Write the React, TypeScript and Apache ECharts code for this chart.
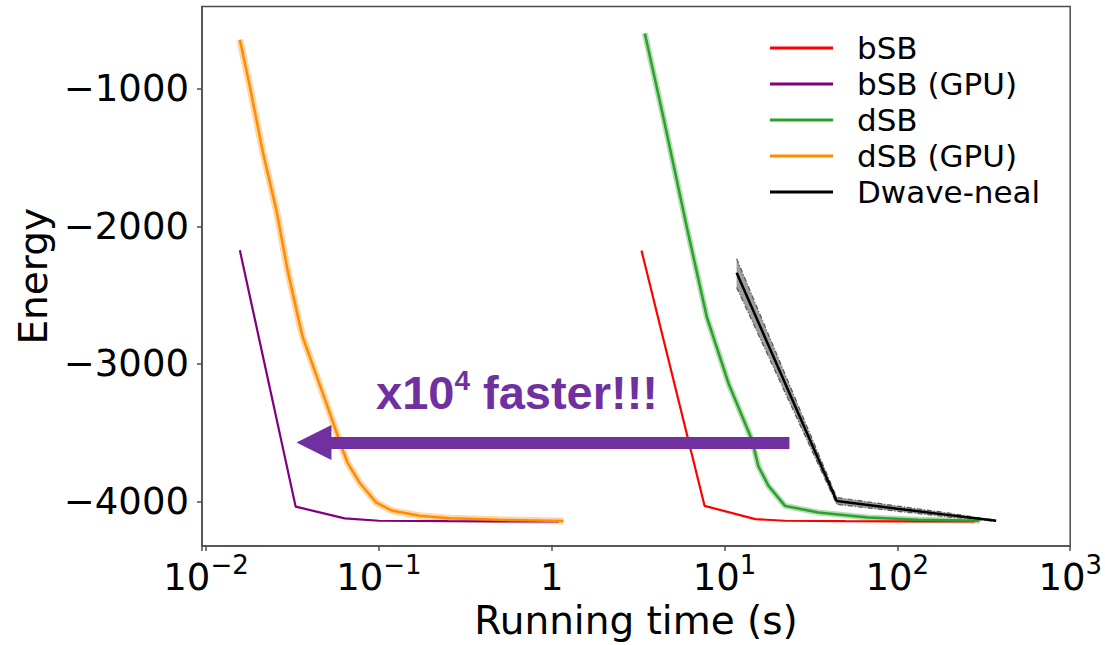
import React, { useEffect, useRef } from 'react';
import * as echarts from 'echarts';

// ---- data ----
const bsbT = [3.31, 7.67, 15.07, 22.4, 50, 100, 280];
const bsbE = [-2177, -4031, -4127, -4139, -4142, -4143, -4144];

const bsbGpuT = [0.0157, 0.033, 0.0634, 0.1, 0.25, 0.5, 1.1];
const bsbGpuE = [-2175, -4036, -4122, -4139, -4142, -4143, -4144];

const dsbT = [3.46, 4.45, 6.07, 7.91, 10.56, 14.4, 15.7, 18.0, 22.4, 34.9, 67.8, 131.8, 299];
const dsbE = [-600, -1221, -2015, -2662, -3143, -3551, -3743, -3887, -4031, -4079, -4115, -4132, -4139];

const dsbGpuT = [0.0157, 0.0179, 0.0213, 0.0256, 0.0297, 0.0348, 0.0363, 0.0497, 0.0607, 0.066, 0.0774, 0.0966, 0.12, 0.172, 0.256, 0.497, 1.17];
const dsbGpuE = [-645, -981, -1459, -1891, -2324, -2711, -2806, -3287, -3599, -3719, -3863, -4007, -4067, -4103, -4120, -4132, -4140];

const nealT = [11.75, 44.6, 100, 200, 373];
const nealE = [-2338, -3995, -4051, -4098, -4139];
const nealLower = [-2445, -4020, -4070, -4112, -4143];
const nealUpper = [-2235, -3970, -4032, -4084, -4135];

const legendNames = ['bSB', 'bSB (GPU)', 'dSB', 'dSB (GPU)', 'Dwave-neal'];
const seriesColors = ['#ff0000', '#800080', '#2ca02c', '#ff8c00', '#000000'];

const xTicks = [0.01, 0.1, 1, 10, 100, 1000];
const xTickBase = ['10', '10', '1', '10', '10', '10'];
const xTickExp = ['\u22122', '\u22121', '', '1', '2', '3'];
const yTicks = [-4000, -3000, -2000, -1000];

// annotation arrow (data coordinates)
const arrowFromT = 23.75;
const arrowToT = 0.0421;
const arrowE = -3570;

const zip = (a: number[], b: number[]) => a.map((v, i) => [v, b[i]]);

export default function App() {
  const ref = useRef<HTMLDivElement>(null);
  useEffect(() => {
    if (!ref.current) return;
    const chart = echarts.init(ref.current, null, { renderer: 'svg' });
    const font = 'DejaVu Sans';
    const lineSeries = (name: string, t: number[], e: number[], color: string, width: number, z = 3) => ({
      type: 'line',
      name,
      data: zip(t, e),
      symbol: 'none',
      showSymbol: false,
      z,
      itemStyle: { color },
      lineStyle: { color, width },
      emphasis: { disabled: true },
      silent: true,
    });
    const bandLine = (name: string, t: number[], e: number[], color: string, width: number) => ({
      type: 'line',
      name,
      data: zip(t, e),
      symbol: 'none',
      showSymbol: false,
      z: 2,
      itemStyle: { color },
      lineStyle: { color, width, opacity: 0.35 },
      emphasis: { disabled: true },
      silent: true,
    });
    const edgeLine = (name: string, t: number[], e: number[]) => ({
      type: 'line',
      name,
      data: zip(t, e),
      symbol: 'none',
      showSymbol: false,
      z: 2,
      lineStyle: { color: '#555', width: 1.2, type: [5, 2, 1, 2] },
      emphasis: { disabled: true },
      silent: true,
    });
    const option: any = {
      animation: false,
      grid: {
        left: 202,
        right: 32.5,
        top: 6.5,
        bottom: 94.5,
        show: true,
        borderColor: '#4d4d4d',
        borderWidth: 1.5,
        backgroundColor: 'transparent',
      },
      legend: {
        data: legendNames,
        orient: 'vertical',
        left: 765,
        top: 25,
        icon: 'rect',
        itemWidth: 63,
        itemHeight: 3,
        itemGap: 0,
        selectedMode: false,
        textStyle: { fontFamily: font, fontSize: 31, color: '#000', lineHeight: 36, padding: [0, 0, 0, 19] },
      },
      xAxis: {
        type: 'log',
        logBase: 10,
        min: 0.00948,
        max: 1000,
        name: 'Running time (s)',
        nameLocation: 'middle',
        nameGap: 45,
        nameTextStyle: { fontFamily: font, fontSize: 39, color: '#000' },
        axisLine: { show: true, lineStyle: { color: '#4d4d4d', width: 1.5 } },
        axisTick: { show: true, inside: false, length: 5, lineStyle: { color: '#4d4d4d', width: 1.5 } },
        minorTick: { show: false },
        splitLine: { show: false },
        axisLabel: {
          margin: 6,
          color: '#000',
          formatter: (v: number) => {
            const i = xTicks.findIndex((t) => Math.abs(Math.log10(t) - Math.log10(v)) < 1e-6);
            if (i < 0) return '';
            return xTickExp[i] ? `{b|${xTickBase[i]}}{s|${xTickExp[i]}}` : `{b|${xTickBase[i]}}`;
          },
          rich: {
            b: { fontFamily: font, fontSize: 37, lineHeight: 44, color: '#000', verticalAlign: 'bottom' },
            s: { fontFamily: font, fontSize: 26, lineHeight: 26, color: '#000', verticalAlign: 'top' },
          },
        },
      },
      yAxis: {
        type: 'value',
        min: -4323,
        max: -404,
        splitNumber: 4,
        name: 'Energy',
        nameLocation: 'middle',
        nameRotate: 90,
        nameGap: 149,
        nameTextStyle: { fontFamily: font, fontSize: 39, color: '#000' },
        axisLine: { show: true, lineStyle: { color: '#4d4d4d', width: 1.5 } },
        axisTick: { show: true, inside: false, length: 5, lineStyle: { color: '#4d4d4d', width: 1.5 }, customValues: yTicks },
        splitLine: { show: false },
        axisLabel: {
          margin: 13,
          fontFamily: font,
          fontSize: 37,
          color: '#000',
          customValues: yTicks,
          formatter: (v: number) => (yTicks.some((t) => Math.abs(t - v) < 1e-6) ? (v < 0 ? '\u2212' + Math.abs(v) : String(v)) : ''),
        },
      },
      series: [
        // Dwave-neal spread band, drawn through the axes' own coordinate conversion
        {
          type: 'custom',
          name: 'neal-band',
          data: zip(nealT, nealE),
          encode: { x: 0, y: 1 },
          z: 2,
          silent: true,
          clip: true,
          renderItem: (params: any, api: any) => {
            if (params.dataIndex !== 0) return null;
            const up = nealT.map((t, i) => api.coord([t, nealUpper[i]]));
            const lo = nealT.map((t, i) => api.coord([t, nealLower[i]])).reverse();
            return {
              type: 'polygon',
              shape: { points: up.concat(lo) },
              style: { fill: 'rgba(0,0,0,0.38)', stroke: 'none' },
            };
          },
        },
        edgeLine('neal-lower', nealT, nealLower),
        edgeLine('neal-upper', nealT, nealUpper),
        bandLine('dsbgpu-band', dsbGpuT, dsbGpuE, seriesColors[3], 7),
        bandLine('dsb-band', dsbT, dsbE, seriesColors[2], 6),
        lineSeries(legendNames[0], bsbT, bsbE, seriesColors[0], 2.2),
        {
          ...lineSeries(legendNames[1], bsbGpuT, bsbGpuE, seriesColors[1], 2.2),
          markLine: {
            silent: true,
            z: 8,
            symbol: ['none', 'path://M5,0 L10,10 L0,10 Z'],
            symbolSize: [35, 35],
            label: { show: false },
            emphasis: { disabled: true },
            lineStyle: { color: '#7030A0', width: 12, type: 'solid', opacity: 1 },
            data: [[{ coord: [arrowFromT, arrowE] }, { coord: [arrowToT, arrowE] }]],
          },
        },
        lineSeries(legendNames[2], dsbT, dsbE, seriesColors[2], 2.5),
        lineSeries(legendNames[3], dsbGpuT, dsbGpuE, seriesColors[3], 2.5),
        lineSeries(legendNames[4], nealT, nealE, seriesColors[4], 2.5),
      ],
      graphic: [
        {
          type: 'text',
          left: 376,
          top: 366,
          z: 10,
          silent: true,
          style: {
            text: '{a|x10}{s|4}{a| faster!!!}',
            rich: {
              a: { fontFamily: 'Liberation Sans', fontWeight: 'bold', fontSize: 47, lineHeight: 50, fill: '#7030A0', verticalAlign: 'bottom' },
              s: { fontFamily: 'Liberation Sans', fontWeight: 'bold', fontSize: 28, lineHeight: 28, fill: '#7030A0', verticalAlign: 'top' },
            },
          },
        },
      ],
    };
    chart.setOption(option);
    return () => chart.dispose();
  }, []);
  return <div ref={ref} style={{ position: 'fixed', left: 0, top: 0, width: 1105, height: 645, background: '#fff' }} />;
}
